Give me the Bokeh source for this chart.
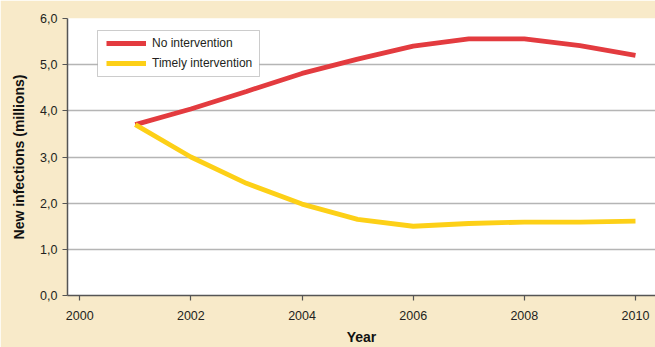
from bokeh.plotting import figure
from bokeh.models import Range1d, FixedTicker, Legend, LegendItem, BoxAnnotation
from bokeh.embed import file_html
from bokeh.resources import INLINE

years = [2001, 2002, 2003, 2004, 2005, 2006, 2007, 2008, 2009, 2010]
no_intervention = [3.70, 4.04, 4.42, 4.81, 5.12, 5.40, 5.56, 5.56, 5.41, 5.20]
timely_intervention = [3.70, 3.00, 2.43, 1.98, 1.65, 1.50, 1.56, 1.59, 1.59, 1.61]
x_ticks = [2000, 2002, 2004, 2006, 2008, 2010]
y_ticks = [0, 1, 2, 3, 4, 5, 6]
y_tick_labels = ["0,0", "1,0", "2,0", "3,0", "4,0", "5,0", "6,0"]

BG = "#F8EAC9"
TXT = "#231F20"
AX = "#555555"

p = figure(width=655, height=347, output_backend="svg", toolbar_location=None,
           x_range=Range1d(1999.78, 2010.36), y_range=Range1d(0, 6.0),
           min_border_left=67, min_border_right=0, min_border_top=18, min_border_bottom=52,
           background_fill_color="white", border_fill_color=BG)
p.outline_line_color = None

r1 = p.line(years, no_intervention, line_color="#E33B3F", line_width=4.8)
r2 = p.line(years, timely_intervention, line_color="#FDD017", line_width=4.8)

p.xgrid.grid_line_color = None
p.ygrid.grid_line_color = "#B5B5B5"
p.ygrid.grid_line_width = 1.5
p.ygrid.ticker = FixedTicker(ticks=[1, 2, 3, 4, 5])

p.xaxis.ticker = FixedTicker(ticks=x_ticks)
p.yaxis.ticker = FixedTicker(ticks=y_ticks)
p.yaxis.major_label_overrides = {t: l for t, l in zip(y_ticks, y_tick_labels)}
for ax in (p.xaxis[0], p.yaxis[0]):
    ax.axis_line_color = AX
    ax.axis_line_width = 1.5
    ax.major_tick_line_color = AX
    ax.major_tick_line_width = 1.2
    ax.major_tick_in = 0
    ax.major_tick_out = 5
    ax.minor_tick_line_color = None
    ax.major_label_text_font = "Liberation Sans"
    ax.major_label_text_font_size = "12.5px"
    ax.major_label_text_color = TXT
    ax.axis_label_text_font = "Liberation Sans"
    ax.axis_label_text_font_size = "14px"
    ax.axis_label_text_font_style = "bold"
    ax.axis_label_text_color = "#111111"

p.xaxis.axis_label = "Year"
p.xaxis.major_label_standoff = 10
p.xaxis.axis_label_standoff = 6
p.yaxis.axis_label = "New infections (millions)"
p.yaxis.major_label_standoff = 5
p.yaxis.axis_label_standoff = 10

frame_box = BoxAnnotation(left=30, right=192, top=265, bottom=219,
                          left_units="screen", right_units="screen",
                          top_units="screen", bottom_units="screen",
                          fill_color="white", fill_alpha=1,
                          line_color="#555555", line_width=1, level="annotation")
p.add_layout(frame_box)

legend = Legend(items=[LegendItem(label="No intervention", renderers=[r1]),
                       LegendItem(label="Timely intervention", renderers=[r2])],
                location=(39, 222))
legend.border_line_color = None
legend.background_fill_alpha = 0
legend.label_text_font = "Liberation Sans"
legend.label_text_font_size = "12px"
legend.label_text_color = TXT
legend.glyph_width = 40
legend.glyph_height = 20
legend.label_height = 20
legend.label_standoff = 6
legend.spacing = 0
legend.padding = 3
legend.margin = 0
p.add_layout(legend, "center")

open("out.html", "w").write(file_html(p, INLINE))
